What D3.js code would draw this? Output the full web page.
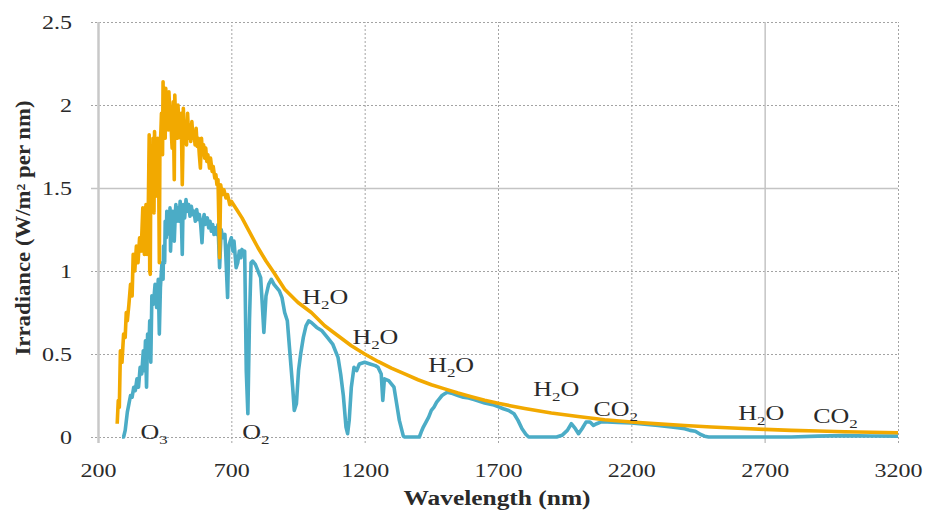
<!DOCTYPE html>
<html>
<head>
<meta charset="utf-8">
<script src="https://cdn.jsdelivr.net/npm/d3@7"></script>
<style>
  body { margin: 0; background: #fff; }
  svg { display: block; }
  text { font-family: "Liberation Serif", "Times New Roman", serif; fill: #2a2a2a; }
  .grid path { display: none; }
  .grid line { stroke: #a3a3a3; stroke-width: 1; stroke-dasharray: 2,2; }
  .line { fill: none; stroke-width: 3.6; stroke-linejoin: round; }
</style>
</head>
<body>
<svg id="chart" width="926" height="511"></svg>
<script>
// Extraterrestrial spectrum (orange)
const extraWl = [272, 276, 280, 284, 290, 296, 302, 306, 310, 316,
  322, 328, 332, 338, 344, 350, 356, 362, 368, 374,
  380, 384, 388, 392, 394, 396, 398, 400, 404, 406,
  410, 412, 416, 418, 422, 424, 428, 430, 432, 436,
  438, 442, 444, 446, 448, 452, 454, 458, 460, 464,
  466, 470, 472, 476, 478, 482, 486, 488, 492, 494,
  498, 500, 504, 506, 510, 512, 516, 518, 520, 524,
  528, 532, 536, 540, 544, 548, 552, 556, 560, 564,
  568, 572, 576, 580, 584, 588, 592, 596, 600, 604,
  608, 612, 618, 622, 628, 632, 638, 642, 646, 650,
  656, 660, 666, 672, 680, 686, 694, 700, 720, 740,
  760, 780, 800, 830, 860, 900, 950, 1000, 1050, 1100,
  1150, 1200, 1250, 1300, 1350, 1400, 1450, 1500, 1550, 1600,
  1650, 1700, 1750, 1800, 1850, 1900, 2000, 2100, 2200, 2300,
  2400, 2500, 2600, 2700, 2800, 2900, 3000, 3100, 3200]
const extraVal = [0.08, 0.22, 0.18, 0.52, 0.45, 0.62, 0.60, 0.75, 0.70, 0.80,
  0.92, 0.85, 1.10, 1.00, 1.15, 1.05, 1.20, 1.12, 1.38, 1.10,
  1.40, 1.10, 1.30, 1.82, 1.00, 0.98, 1.60, 1.75, 1.55, 1.80,
  1.35, 1.84, 1.60, 1.72, 1.45, 1.80, 1.48, 1.05, 1.70, 1.85,
  1.95, 1.70, 2.14, 1.85, 2.00, 1.80, 2.10, 1.90, 2.05, 1.85,
  2.08, 1.92, 1.98, 1.80, 1.74, 2.02, 1.55, 2.06, 1.85, 1.94,
  1.80, 2.00, 1.85, 1.92, 1.80, 1.95, 1.52, 1.70, 1.98, 1.80,
  1.90, 1.76, 1.95, 1.80, 1.88, 1.78, 1.90, 1.80, 1.84, 1.76,
  1.86, 1.75, 1.80, 1.70, 1.62, 1.80, 1.70, 1.76, 1.68, 1.74,
  1.66, 1.70, 1.62, 1.68, 1.60, 1.63, 1.56, 1.58, 1.52, 1.55,
  1.08, 1.52, 1.46, 1.49, 1.44, 1.46, 1.40, 1.42, 1.37, 1.32,
  1.26, 1.20, 1.14, 1.06, 0.99, 0.89, 0.81, 0.75, 0.67, 0.61,
  0.55, 0.50, 0.455, 0.415, 0.38, 0.345, 0.315, 0.29, 0.265, 0.243,
  0.222, 0.203, 0.187, 0.172, 0.158, 0.145, 0.123, 0.104, 0.09, 0.079,
  0.069, 0.06, 0.053, 0.046, 0.040, 0.036, 0.032, 0.029, 0.026]

// Air mass 1.5 spectrum at ground (blue)
const groundWl = [290, 296, 302, 310, 316, 322, 328, 334, 340, 346,
  352, 358, 364, 370, 374, 378, 382, 386, 390, 394,
  398, 402, 408, 414, 420, 426, 430, 434, 440, 444,
  446, 450, 452, 456, 458, 462, 464, 468, 470, 472,
  476, 480, 484, 486, 490, 492, 496, 500, 504, 508,
  512, 516, 518, 520, 525, 530, 535, 540, 545, 550,
  555, 560, 565, 570, 575, 580, 585, 590, 594, 598,
  602, 610, 615, 620, 625, 630, 635, 640, 645, 650,
  656, 662, 668, 676, 686, 690, 696, 700, 706, 710,
  718, 724, 730, 736, 740, 745, 750, 756, 762, 768,
  774, 780, 790, 800, 810, 816, 822, 830, 840, 850,
  860, 870, 880, 890, 900, 910, 920, 930, 936, 944,
  952, 960, 970, 980, 990, 1000, 1020, 1040, 1060, 1080,
  1100, 1110, 1120, 1130, 1136, 1142, 1150, 1160, 1170, 1180,
  1200, 1220, 1240, 1250, 1262, 1268, 1274, 1290, 1310, 1320,
  1330, 1345, 1350, 1405, 1412, 1420, 1430, 1440, 1450, 1460,
  1470, 1480, 1490, 1500, 1510, 1530, 1550, 1570, 1590, 1610,
  1630, 1650, 1680, 1700, 1720, 1740, 1760, 1775, 1790, 1805,
  1815, 1920, 1940, 1960, 1975, 1990, 2002, 2015, 2030, 2045,
  2058, 2070, 2085, 2110, 2150, 2200, 2250, 2300, 2350, 2380,
  2400, 2420, 2440, 2460, 2475, 2490, 2800, 2900, 3000, 3100,
  3200]
const groundVal = [0, 0, 0.04, 0.15, 0.20, 0.25, 0.24, 0.30, 0.28, 0.35,
  0.30, 0.42, 0.38, 0.52, 0.40, 0.58, 0.30, 0.62, 0.48, 0.70,
  0.45, 0.85, 0.80, 0.92, 0.78, 0.95, 0.62, 0.90, 1.05, 0.95,
  1.15, 1.05, 1.30, 1.20, 1.36, 1.25, 1.33, 1.22, 1.38, 1.12,
  1.30, 1.36, 1.24, 1.18, 1.35, 1.40, 1.30, 1.38, 1.30, 1.42,
  1.35, 1.10, 1.30, 1.40, 1.32, 1.43, 1.36, 1.40, 1.33, 1.39,
  1.34, 1.36, 1.30, 1.37, 1.31, 1.34, 1.28, 1.17, 1.30, 1.34,
  1.28, 1.32, 1.26, 1.30, 1.24, 1.28, 1.22, 1.26, 1.22, 1.28,
  1.02, 1.25, 1.20, 1.22, 0.84, 1.15, 1.18, 1.20, 1.12, 1.18,
  1.02, 1.05, 1.12, 1.08, 1.13, 1.10, 1.12, 0.40, 0.14, 0.70,
  1.05, 1.06, 1.04, 1.00, 0.96, 0.80, 0.63, 0.85, 0.92, 0.95,
  0.92, 0.90, 0.88, 0.84, 0.75, 0.70, 0.50, 0.30, 0.16, 0.20,
  0.40, 0.50, 0.60, 0.67, 0.70, 0.69, 0.66, 0.64, 0.60, 0.56,
  0.48, 0.38, 0.25, 0.06, 0.02, 0.10, 0.30, 0.42, 0.40, 0.44,
  0.45, 0.44, 0.43, 0.42, 0.38, 0.22, 0.35, 0.34, 0.30, 0.20,
  0.10, 0.005, 0, 0, 0.03, 0.06, 0.09, 0.12, 0.16, 0.18,
  0.21, 0.23, 0.25, 0.26, 0.27, 0.262, 0.25, 0.24, 0.235, 0.225,
  0.215, 0.205, 0.195, 0.183, 0.17, 0.16, 0.14, 0.10, 0.05, 0.015,
  0, 0, 0.01, 0.04, 0.08, 0.05, 0.02, 0.05, 0.09, 0.09,
  0.07, 0.08, 0.09, 0.09, 0.087, 0.084, 0.077, 0.07, 0.06, 0.055,
  0.05, 0.04, 0.035, 0.015, 0.005, 0, 0, 0.005, 0.008, 0.006,
  0.005]

const xTicks = [200, 700, 1200, 1700, 2200, 2700, 3200]
const yTicks = [0, 0.5, 1, 1.5, 2, 2.5]
const yTickLabels = ['0', '0.5', '1', '1.5', '2', '2.5']

// Absorption band annotations: main text, subscript, tail, anchor point
const bandMain = ['O', 'O', 'H', 'H', 'H', 'H', 'CO', 'H', 'CO']
const bandSub = ['3', '2', '2', '2', '2', '2', '2', '2', '2']
const bandTail = ['', '', 'O', 'O', 'O', 'O', '', 'O', '']
const bandWl = [359, 741, 966, 1154, 1438, 1832, 2058, 2601, 2882]
const bandVal = [-0.012, -0.012, 0.80, 0.56, 0.39, 0.247, 0.126, 0.102, 0.084]

const margin = { top: 22, left: 98, right: 28, bottom: 74 }
const width = 926 - margin.left - margin.right
const height = 511 - margin.top - margin.bottom
const stretch = 1.3
const serif = '"Liberation Serif", "Times New Roman", serif'

const svg = d3.select('#chart')
const g = svg.append('g').attr('transform', `translate(${margin.left},${margin.top})`)

const x = d3.scaleLinear().domain([200, 3200]).range([0, width])
const y = d3.scaleLinear().domain([0, 2.5]).range([height, 0])

// Horizontal grid with tick labels
const yAxis = g.append('g')
  .attr('class', 'grid')
  .call(d3.axisLeft(y).tickValues(yTicks).tickSize(-width).tickFormat((d, i) => yTickLabels[i]))
yAxis.selectAll('line').attr('x1', -7)
yAxis.selectAll('.tick').filter(d => d === 1.5).select('line')
  .style('stroke-dasharray', 'none').style('stroke', '#c4c4c4').style('stroke-width', 1.5)
yAxis.selectAll('text')
  .attr('x', 0)
  .attr('dy', '0.35em')
  .attr('transform', `translate(-26,0) scale(${stretch},1)`)
  .style('font-family', serif)
  .style('font-size', '18.5px')

// Vertical grid with tick labels
const xAxis = g.append('g')
  .attr('class', 'grid')
  .attr('transform', `translate(0,${height})`)
  .call(d3.axisBottom(x).tickValues(xTicks).tickSize(-height).tickFormat(d3.format('d')))
xAxis.selectAll('line').attr('y1', 6)
xAxis.selectAll('.tick').filter(d => d === 2700).select('line')
  .style('stroke-dasharray', 'none').style('stroke', '#c4c4c4').style('stroke-width', 1.5)
xAxis.selectAll('.tick').filter(d => d === 200).select('line')
  .style('stroke-dasharray', 'none').style('stroke', '#c8c8c8').style('stroke-width', 2.5)
xAxis.selectAll('text')
  .attr('y', 40)
  .attr('dy', null)
  .attr('transform', `scale(${stretch},1)`)
  .style('font-family', serif)
  .style('font-size', '18.5px')

// Spectra
const line = d3.line()
  .x(d => x(d[0]))
  .y(d => y(d[1]))

g.append('path')
  .datum(d3.zip(groundWl, groundVal))
  .attr('class', 'line')
  .attr('stroke', '#4bacc6')
  .attr('d', line)

g.append('path')
  .datum(d3.zip(extraWl, extraVal))
  .attr('class', 'line')
  .attr('stroke', '#f2a900')
  .attr('d', line)

// Band labels
bandMain.forEach((m, i) => {
  const t = g.append('g')
    .attr('transform', `translate(${x(bandWl[i])},${y(bandVal[i])})`)
    .append('text')
    .attr('transform', `scale(${stretch},1)`)
    .style('font-size', '20px')
  t.append('tspan').text(m)
  t.append('tspan').attr('dy', 5).style('font-size', '13px').text(bandSub[i])
  if (bandTail[i]) t.append('tspan').attr('dy', -5).text(bandTail[i])
})

// Axis titles
svg.append('text')
  .attr('x', 497)
  .attr('y', 505)
  .attr('text-anchor', 'middle')
  .attr('textLength', 187)
  .attr('lengthAdjust', 'spacingAndGlyphs')
  .style('font-size', '20px')
  .style('font-weight', 'bold')
  .text('Wavelength (nm)')

svg.append('text')
  .attr('transform', 'translate(30,228) rotate(-90)')
  .attr('text-anchor', 'middle')
  .attr('textLength', 255)
  .attr('lengthAdjust', 'spacingAndGlyphs')
  .style('font-size', '20px')
  .style('font-weight', 'bold')
  .text('Irradiance (W/m² per nm)')
</script>
</body>
</html>
